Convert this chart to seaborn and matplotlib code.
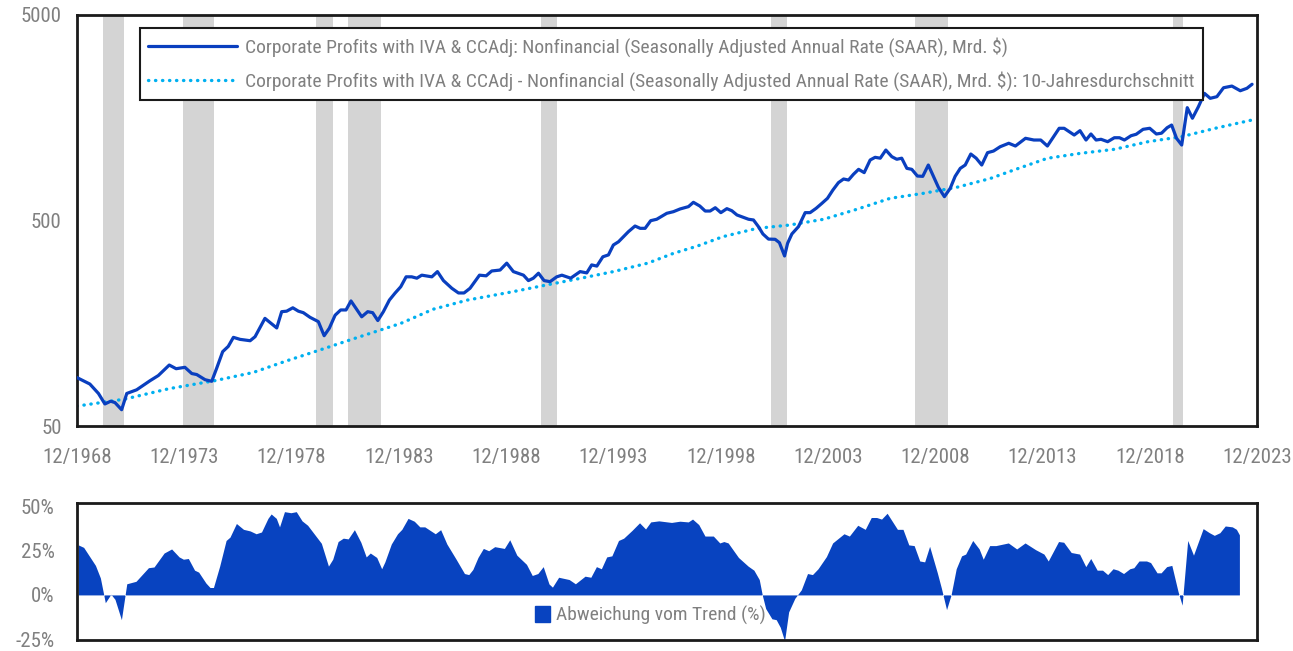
import matplotlib
matplotlib.use("Agg")
import matplotlib.pyplot as plt
from matplotlib import font_manager
from matplotlib.ticker import FixedLocator, FuncFormatter, NullLocator
from matplotlib.patches import Patch
from matplotlib.lines import Line2D
import numpy as np
import pandas as pd
import seaborn as sns

# Corporate profits, nonfinancial (Mrd. $)
profit_year = [1969.0, 1969.6, 1970.0, 1970.3, 1970.57, 1970.77, 1971.08, 1971.32, 1971.78, 1972.4,
               1972.79, 1973.3, 1973.62, 1974.03, 1974.35, 1974.58, 1974.97, 1975.28, 1975.51, 1975.79,
               1976.05, 1976.29, 1976.6, 1977.07, 1977.3, 1977.76, 1978.31, 1978.54, 1978.77, 1979.06,
               1979.32, 1979.55, 1979.86, 1980.25, 1980.52, 1980.76, 1981.03, 1981.29, 1981.54, 1981.77,
               1982.27, 1982.55, 1982.78, 1983.02, 1983.28, 1983.56, 1983.83, 1984.09, 1984.34, 1984.6,
               1984.84, 1985.07, 1985.54, 1985.8, 1986.08, 1986.47, 1986.78, 1987.04, 1987.32, 1987.76,
               1988.07, 1988.33, 1988.72, 1989.03, 1989.34, 1989.81, 1990.04, 1990.27, 1990.51, 1990.77,
               1991.05, 1991.36, 1991.6, 1992.01, 1992.45, 1992.76, 1992.99, 1993.23, 1993.51, 1993.77,
               1994.0, 1994.24, 1994.47, 1994.7, 1995.01, 1995.25, 1995.48, 1995.74, 1996.02, 1996.49,
               1996.8, 1997.11, 1997.5, 1997.73, 1998.03, 1998.28, 1998.51, 1998.75, 1999.01, 1999.29,
               1999.52, 1999.76, 2000.06, 2000.3, 2000.53, 2000.76, 2000.97, 2001.23, 2001.54, 2001.74,
               2001.98, 2002.12, 2002.32, 2002.63, 2002.94, 2003.17, 2003.45, 2003.72, 2003.98, 2004.23,
               2004.49, 2004.73, 2004.96, 2005.19, 2005.43, 2005.69, 2005.97, 2006.2, 2006.44, 2006.7,
               2006.98, 2007.21, 2007.44, 2007.68, 2007.91, 2008.17, 2008.42, 2008.68, 2008.89, 2009.15,
               2009.43, 2009.7, 2009.93, 2010.17, 2010.4, 2010.66, 2010.91, 2011.17, 2011.44, 2011.72,
               2012.03, 2012.43, 2012.74, 2013.21, 2013.6, 2013.92, 2014.23, 2014.78, 2015.01, 2015.48,
               2015.75, 2016.03, 2016.26, 2016.5, 2016.73, 2017.04, 2017.35, 2017.59, 2017.82, 2018.13,
               2018.37, 2018.69, 2019.0, 2019.31, 2019.55, 2019.81, 2020.02, 2020.25, 2020.49, 2020.75,
               2020.99, 2021.27, 2021.55, 2021.82, 2022.13, 2022.44, 2022.83, 2023.22, 2023.53, 2023.77]
profit_value = [86, 80, 72, 64, 66, 65, 60, 72, 75, 83,
                88, 99, 95, 96.5, 90, 89, 84, 82.5, 95.5, 115,
                122, 135, 132, 130, 136, 167, 150, 180, 181, 188,
                181, 178, 169, 161, 137.5, 149.5, 173, 183.5, 183.5, 203,
                170, 180, 178, 163, 180, 205, 222, 238, 266, 266,
                262, 271, 266, 282, 255, 234, 222, 222, 234, 271,
                269, 284, 287, 310, 282, 271, 255, 262, 277, 255,
                252, 266, 271, 262, 282, 278, 304, 300, 333, 340,
                380, 394, 417, 441, 470, 458, 458, 499, 507, 542,
                552, 569, 584, 613, 588, 556, 556, 577, 546, 571,
                558, 532, 518, 507, 503, 467, 430, 406, 405, 390,
                336, 387, 430, 467, 546, 546, 573, 606, 641, 703,
                764, 796, 787, 839, 887, 855, 985, 1015, 1005, 1101,
                1022, 993, 1005, 897, 887, 823, 820, 931, 833, 725,
                653, 717, 820, 897, 931, 1053, 1005, 931, 1069, 1089,
                1143, 1188, 1152, 1256, 1232, 1232, 1152, 1405, 1405, 1303,
                1368, 1232, 1318, 1232, 1242, 1209, 1264, 1264, 1232, 1293,
                1314, 1389, 1405, 1318, 1330, 1414, 1457, 1256, 1165, 1770,
                1572, 1790, 2078, 1966, 2002, 2213, 2255, 2140, 2199, 2301]

# 10-year average
trend_year = [1969.0, 1971.2, 1973.3, 1975.4, 1977.2, 1978.8, 1980.3, 1981.9, 1984.1, 1985.6,
              1987.2, 1989.3, 1990.9, 1992.5, 1994.0, 1995.6, 1996.8, 1997.9, 1999.1, 2000.7,
              2002.2, 2003.8, 2005.35, 2006.9, 2008.45, 2010.0, 2011.56, 2012.66, 2014.23, 2015.79,
              2017.35, 2018.92, 2020.49, 2022.05, 2023.77]
trend_value = [62.5, 67.5, 76, 83, 91, 104, 117, 133, 158, 185,
               205, 225, 243, 262, 282, 310, 346, 375, 417, 458,
               475, 507, 567, 641, 678, 725, 800, 880, 1004, 1062,
               1110, 1209, 1279, 1405, 1542]

# deviation from trend (%)
dev_year = [1969.06, 1969.31, 1969.86, 1970.09, 1970.32, 1970.58, 1970.77, 1971.07, 1971.32, 1971.75,
            1972.33, 1972.59, 1973.06, 1973.41, 1973.76, 1973.96, 1974.19, 1974.48, 1974.67, 1975.01,
            1975.2, 1975.36, 1975.65, 1975.95, 1976.13, 1976.43, 1976.76, 1977.07, 1977.35, 1977.6,
            1977.9, 1978.05, 1978.29, 1978.44, 1978.67, 1978.97, 1979.22, 1979.49, 1979.75, 1980.39,
            1980.72, 1980.92, 1981.17, 1981.41, 1981.64, 1981.93, 1982.23, 1982.48, 1982.67, 1982.97,
            1983.2, 1983.35, 1983.65, 1983.94, 1984.14, 1984.43, 1984.72, 1984.98, 1985.21, 1985.7,
            1985.95, 1986.24, 1986.67, 1987.06, 1987.26, 1987.45, 1987.69, 1987.94, 1988.19, 1988.47,
            1988.92, 1989.17, 1989.5, 1989.95, 1990.22, 1990.48, 1990.73, 1991.0, 1991.16, 1991.45,
            1991.94, 1992.23, 1992.68, 1992.95, 1993.21, 1993.44, 1993.69, 1993.93, 1994.24, 1994.48,
            1994.87, 1995.22, 1995.5, 1995.74, 1996.12, 1996.71, 1997.1, 1997.49, 1997.69, 1997.98,
            1998.27, 1998.66, 1998.96, 1999.15, 1999.35, 1999.83, 2000.28, 2000.55, 2000.8, 2000.94,
            2001.1, 2001.39, 2001.59, 2001.78, 2001.98, 2002.17, 2002.46, 2002.76, 2003.05, 2003.28,
            2003.54, 2003.93, 2004.22, 2004.75, 2005.0, 2005.39, 2005.74, 2006.02, 2006.27, 2006.5,
            2006.76, 2007.24, 2007.5, 2007.77, 2008.02, 2008.28, 2008.51, 2008.74, 2009.1, 2009.29,
            2009.53, 2009.74, 2009.98, 2010.23, 2010.42, 2010.75, 2011.05, 2011.24, 2011.54, 2011.83,
            2012.41, 2012.8, 2013.19, 2013.68, 2014.07, 2014.27, 2014.75, 2014.99, 2015.34, 2015.73,
            2016.02, 2016.25, 2016.55, 2016.8, 2017.04, 2017.29, 2017.52, 2017.78, 2018.07, 2018.26,
            2018.5, 2018.85, 2019.04, 2019.34, 2019.53, 2019.79, 2020.03, 2020.32, 2020.51, 2020.77,
            2021.04, 2021.49, 2021.78, 2022.01, 2022.27, 2022.52, 2022.85, 2023.04, 2023.18]
dev_pct = [28.3, 26.9, 16.7, 9.6, -4.4, 0.4, -2.5, -14, 6.3, 7.7,
           15.4, 15.8, 23.7, 26, 21.5, 20.2, 20.6, 14, 12.9, 6.7,
           4.2, 4.2, 16.3, 30.8, 32.7, 40.4, 37.1, 36.2, 34.6, 35.6,
           43.3, 45.8, 43.3, 38.5, 47.1, 46.5, 47.1, 41.9, 39.4, 29.2,
           16.3, 20.2, 30.2, 32.1, 31.7, 36.9, 29.8, 21.5, 23.7, 21.2,
           14.8, 18.7, 28.8, 34.6, 37.1, 43.3, 41.7, 38.5, 38.5, 34.6,
           36.9, 28.8, 20.2, 12.1, 11.5, 14.4, 21.2, 26.3, 25, 27.3,
           26.3, 31.2, 22.5, 17.3, 11, 12.1, 16, 6.2, 4.4, 10,
           8.7, 6.3, 10.6, 10, 16, 14.8, 21.5, 22.1, 30.8, 32.1,
           36.5, 40.8, 37.3, 41.3, 41.9, 41, 41.7, 41.3, 42.9, 39.8,
           33.3, 33.3, 29.4, 30.2, 29.4, 21.2, 16.3, 14, 8.7, 0,
           -7.7, -13.5, -14, -18.3, -26, -9.6, -1.9, 2.9, 12.1, 11.5,
           14.8, 21.7, 29.4, 34.6, 33.3, 39.4, 37.1, 43.8, 43.8, 42.9,
           46.2, 37.1, 37.1, 28.3, 27.9, 19.2, 18.7, 27.5, 12.5, 3.8,
           -8.3, 0, 14.8, 22.1, 23.1, 30.8, 26, 20.2, 27.9, 27.9,
           29.4, 26, 29.4, 25.6, 23.1, 19.2, 30.2, 29.8, 24, 23.1,
           16, 20.6, 14, 14, 11.5, 14.8, 14, 12.1, 14.8, 15.4,
           19.2, 19.2, 18.3, 12.5, 12.5, 16, 16.7, 1.9, -5.8, 30.8,
           22.5, 37.5, 35.2, 33.7, 35.2, 39, 38.5, 37.1, 34]

# recession periods (start, end) as shown by the grey bands
rec_start = [1970.2, 1973.95, 1980.15, 1981.65, 1990.63, 2001.35, 2008.07, 2020.1]
rec_end = [1971.2, 1975.4, 1980.93, 1983.17, 1991.38, 2002.1, 2009.6, 2020.56]

label_main = "Corporate Profits with IVA & CCAdj: Nonfinancial (Seasonally Adjusted Annual Rate (SAAR), Mrd. $)"
label_trend = ("Corporate Profits with IVA & CCAdj - Nonfinancial (Seasonally Adjusted Annual Rate (SAAR), "
               "Mrd. $): 10-Jahresdurchschnitt")
label_dev = "Abweichung vom Trend (%)"

x_ticks = [1969, 1974, 1979, 1984, 1989, 1994, 1999, 2004, 2009, 2014, 2019, 2024]

DARK_BLUE = "#0a3fbf"
AREA_BLUE = "#0843c0"
CYAN = "#00b0f0"
GREY_TXT = "#808080"
DOTS = (0, (0.1, 2.0))

sns.set_style("white")


def pick_font(candidates):
    for name in candidates:
        try:
            font_manager.findfont(name, fallback_to_default=False)
            return name
        except Exception:
            continue
    return "DejaVu Sans"


font = pick_font(["Liberation Sans Narrow", "Roboto Condensed", "Liberation Sans"])
plt.rcParams["font.family"] = [font, "DejaVu Sans"]

df_profit = pd.DataFrame({"year": profit_year, "value": profit_value})
df_trend = pd.DataFrame({"year": trend_year, "value": trend_value})
df_dev = pd.DataFrame({"year": dev_year, "pct": dev_pct})

fig = plt.figure(figsize=(12.93, 6.51), dpi=100)
ax = fig.add_axes([77 / 1293, 1 - 426 / 651, 1180 / 1293, 411 / 651])
ax2 = fig.add_axes([77 / 1293, 1 - 640 / 651, 1180 / 1293, 137 / 651])

# top panel
for s, e in zip(rec_start, rec_end):
    ax.axvspan(s, e, color="#d4d4d4", lw=0, zorder=0)
sns.lineplot(data=df_trend, x="year", y="value", ax=ax, color=CYAN, lw=2.4,
             linestyle=DOTS, dash_capstyle="round", zorder=2)
sns.lineplot(data=df_profit, x="year", y="value", ax=ax, color=DARK_BLUE, lw=2.3, zorder=3)
ax.set_yscale("log")
ax.set_ylim(50, 5000)
ax.set_xlim(1969, 2024)
ax.yaxis.set_major_locator(FixedLocator([50, 500, 5000]))
ax.yaxis.set_major_formatter(FuncFormatter(lambda v, p: f"{v:.0f}"))
ax.yaxis.set_minor_locator(NullLocator())
ax.xaxis.set_major_locator(FixedLocator(x_ticks))
ax.xaxis.set_major_formatter(FuncFormatter(lambda v, p: f"12/{int(round(v)) - 1}"))
ax.set_xlabel("")
ax.set_ylabel("")
ax.tick_params(axis="both", direction="out", length=7, width=1.5, color="#333333",
               labelcolor=GREY_TXT, labelsize=15, pad=4)
ax.tick_params(axis="x", pad=9)
for sp in ax.spines.values():
    sp.set_visible(True)
    sp.set_linewidth(2)
    sp.set_color("#1a1a1a")

handles = [Line2D([], [], color=DARK_BLUE, lw=2.3),
           Line2D([], [], color=CYAN, lw=2.4, linestyle=DOTS, dash_capstyle="round")]
leg = ax.legend(handles, [label_main, label_trend], loc="upper left",
                bbox_to_anchor=(0.053, 0.968), frameon=True, fancybox=False,
                edgecolor="#1a1a1a", framealpha=1, fontsize=14, labelcolor=GREY_TXT,
                handlelength=4.55, borderpad=0.45, labelspacing=0.75, handletextpad=0.4,
                borderaxespad=0)
leg.get_frame().set_linewidth(1.5)

# bottom panel
ax2.fill_between(df_dev["year"], 0, df_dev["pct"], color=AREA_BLUE, lw=0)
ax2.set_xlim(1969, 2024)
ax2.set_ylim(-25.5, 52)
ax2.yaxis.set_major_locator(FixedLocator([-25, 0, 25, 50]))
ax2.yaxis.set_major_formatter(FuncFormatter(lambda v, p: f"{v:.0f}%"))
ax2.set_xticks([])
ax2.tick_params(axis="y", length=0, labelcolor=GREY_TXT, labelsize=15, pad=16)
for sp in ax2.spines.values():
    sp.set_visible(True)
    sp.set_linewidth(2)
    sp.set_color("#1a1a1a")
ax2.legend([Patch(color=AREA_BLUE)], [label_dev], loc="center", bbox_to_anchor=(0.486, 0.18),
           frameon=False, fontsize=14, labelcolor=GREY_TXT, handlelength=0.75, handleheight=0.9,
           handletextpad=0.3)

fig.savefig("out.png", dpi=100)
